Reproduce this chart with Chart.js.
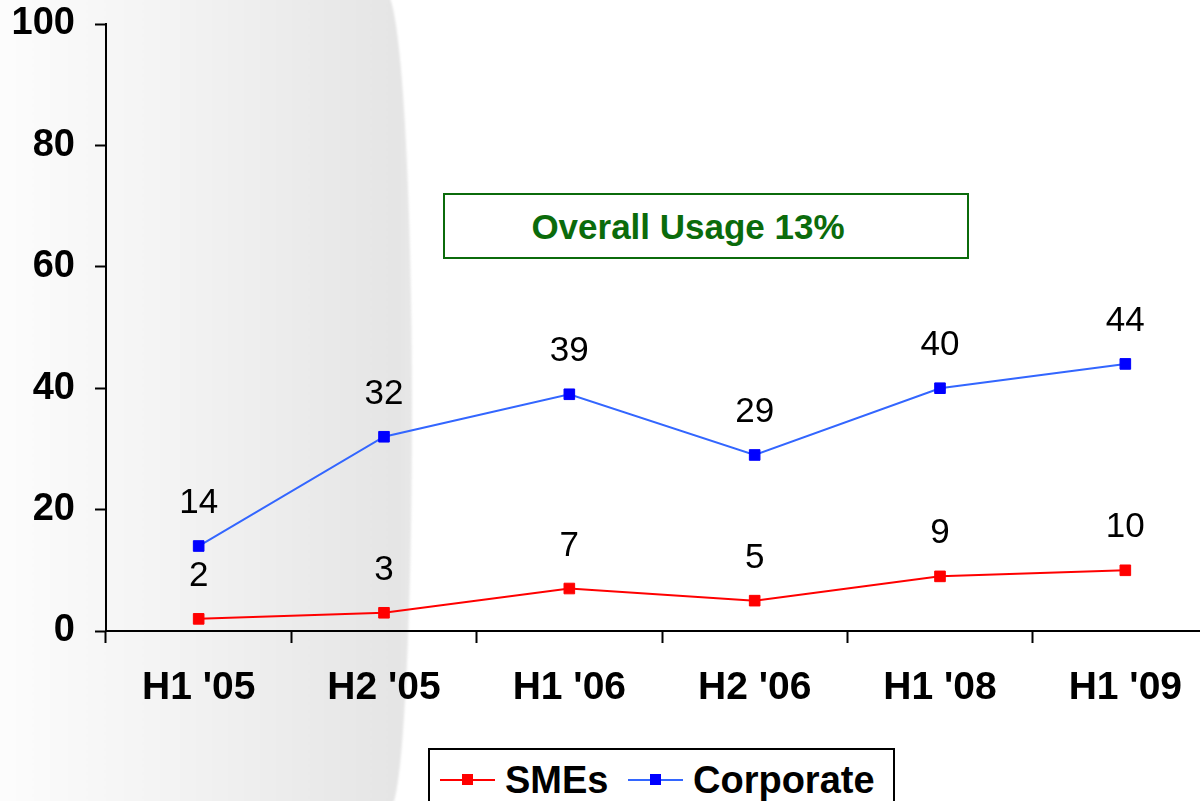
<!DOCTYPE html>
<html>
<head>
<meta charset="utf-8">
<script src="https://cdn.jsdelivr.net/npm/chart.js@4/dist/chart.umd.min.js"></script>
<style>
  html, body { margin: 0; padding: 0; background: #fff; }
  body { width: 1200px; height: 801px; overflow: hidden; position: relative; font-family: 'Liberation Sans', Arial, sans-serif; }
  #shade {
    position: absolute; left: -20px; top: -6px; width: 432px; height: 813px;
    background: linear-gradient(to right, #fefefe 0%, #fafafa 15%, #f3f3f3 45%, #ebebeb 75%, #e5e5e5 97%, #e8e8e8 100%);
    border-top-right-radius: 26px 420px;
    border-bottom-right-radius: 22px 400px;
    filter: blur(1.2px);
  }
  #wrap { position: absolute; left: 0; top: 0; width: 1230px; height: 801px; }
  #note {
    position: absolute; left: 443px; top: 193px; width: 486px; height: 62px; padding-right: 36px;
    border: 2px solid #0b6b0b; background: #fff; color: #0b6b0b;
    font-weight: bold; font-size: 35px; line-height: 64px; text-align: center;
  }
  #legend {
    position: absolute; left: 428px; top: 748px; width: 463px; height: 70px;
    border: 2px solid #000; background: #fff;
  }
  .item { position: absolute; top: 0; height: 60px; display: flex; align-items: center; font-weight: bold; font-size: 38px; color: #000; }
  .swatch { position: relative; width: 55px; height: 12px; margin-right: 10px; }
  .swatch .ln { position: absolute; left: 0; right: 0; top: 5px; height: 2px; }
  .swatch .pt { position: absolute; left: 22px; top: 0; width: 11px; height: 11px; }
</style>
</head>
<body>
<div id="shade"></div>
<div id="wrap"><canvas id="chart" width="1230" height="801"></canvas></div>
<div id="note">Overall Usage 13%</div>
<div id="legend"></div>
<script>
// ── Data ──────────────────────────────────────────────
const periods = ["H1 '05", "H2 '05", "H1 '06", "H2 '06", "H1 '08", "H1 '09"];
const smeValues = [2, 3, 7, 5, 9, 10];
const corporateValues = [14, 32, 39, 29, 40, 44];
const yTicks = [0, 20, 40, 60, 80, 100];

const FONT = "'Liberation Sans', Arial, sans-serif";

// draws the value above each point
const valueLabels = {
  id: 'valueLabels',
  afterDatasetsDraw(chart) {
    const ctx = chart.ctx;
    ctx.save();
    ctx.font = '35px ' + FONT;
    ctx.fillStyle = '#000';
    ctx.textAlign = 'center';
    ctx.textBaseline = 'alphabetic';
    chart.data.datasets.forEach((ds, i) => {
      chart.getDatasetMeta(i).data.forEach((pt, j) => {
        ctx.fillText(String(ds.data[j]), pt.x, pt.y - 33);
      });
    });
    ctx.restore();
  }
};

const chart = new Chart(document.getElementById('chart'), {
  type: 'line',
  data: {
    labels: periods,
    datasets: [
      {
        label: 'SMEs',
        data: smeValues,
        borderColor: '#ff0000',
        backgroundColor: '#ff0000',
        pointBackgroundColor: '#ff0000',
        pointBorderColor: '#ff0000',
        borderWidth: 2,
        pointStyle: 'rect',
        pointRadius: 7.5,
        pointBorderWidth: 1,
        tension: 0
      },
      {
        label: 'Corporate',
        data: corporateValues,
        borderColor: '#3366ff',
        backgroundColor: '#0000ff',
        pointBackgroundColor: '#0000ff',
        pointBorderColor: '#0000ff',
        borderWidth: 2,
        pointStyle: 'rect',
        pointRadius: 7.5,
        pointBorderWidth: 1,
        tension: 0
      }
    ]
  },
  options: {
    responsive: false,
    animation: false,
    layout: { padding: { top: 24, right: 12, bottom: 0, left: 0 } },
    plugins: {
      legend: { display: false },
      tooltip: { enabled: false }
    },
    scales: {
      x: {
        offset: true,
        border: { color: '#000', width: 2 },
        grid: {
          offset: true,
          drawOnChartArea: false,
          drawTicks: true,
          tickLength: 12,
          tickColor: '#000',
          tickWidth: 2
        },
        ticks: {
          color: '#000',
          padding: 22,
          maxRotation: 0,
          font: { family: FONT, size: 39, weight: 'bold' }
        },
        afterFit: (scale) => { scale.height = 170; }
      },
      y: {
        min: 0,
        max: 100,
        afterBuildTicks: (scale) => { scale.ticks = yTicks.map(v => ({ value: v })); },
        border: { color: '#000', width: 2 },
        grid: {
          drawOnChartArea: false,
          drawTicks: true,
          tickLength: 11,
          tickColor: '#000',
          tickWidth: 2
        },
        ticks: {
          color: '#000',
          padding: 20,
          font: { family: FONT, size: 38, weight: 'bold' }
        },
        afterFit: (scale) => {
          scale.width = 106;
          scale.paddingTop = 0;
          scale.paddingBottom = 0;
        }
      }
    }
  },
  plugins: [valueLabels]
});

// ── HTML legend built from the datasets ──
const legendEl = document.getElementById('legend');
const legendLeft = [10, 198];
chart.data.datasets.forEach((ds, i) => {
  const item = document.createElement('div');
  item.className = 'item';
  item.style.left = legendLeft[i] + 'px';
  const sw = document.createElement('div');
  sw.className = 'swatch';
  const ln = document.createElement('div');
  ln.className = 'ln';
  ln.style.background = ds.borderColor;
  const pt = document.createElement('div');
  pt.className = 'pt';
  pt.style.background = ds.pointBackgroundColor;
  sw.appendChild(ln);
  sw.appendChild(pt);
  const txt = document.createElement('span');
  txt.textContent = ds.label;
  item.appendChild(sw);
  item.appendChild(txt);
  legendEl.appendChild(item);
});
</script>
</body>
</html>
